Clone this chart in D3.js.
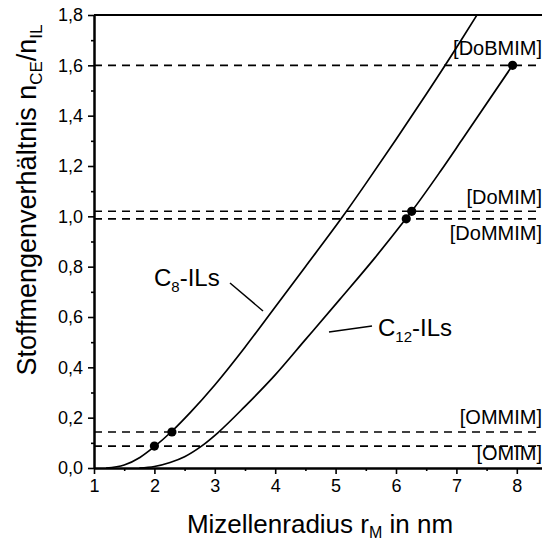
<!DOCTYPE html>
<html>
<head>
<meta charset="utf-8">
<script src="https://cdn.jsdelivr.net/npm/d3@7"></script>
<style>
  html, body { margin: 0; padding: 0; background: #fff; }
  svg { display: block; }
  text { font-family: "Liberation Sans", Arial, sans-serif; fill: #000; }
</style>
</head>
<body>
<script>
// ---- data ----
const c8R  = [1.20, 1.50, 1.76, 2.00, 2.29, 2.60, 3.00, 3.50, 4.00, 4.50, 5.12, 5.50, 6.00, 6.50, 7.00, 7.34];
const c8N  = [0.000, 0.012, 0.042, 0.085, 0.146, 0.222, 0.330, 0.480, 0.640, 0.800, 1.000, 1.130, 1.305, 1.485, 1.670, 1.800];
const c12R = [1.75, 2.00, 2.26, 2.50, 2.78, 3.05, 3.50, 4.00, 4.50, 5.07, 5.65, 6.17, 6.26, 6.73, 7.09, 7.93];
const c12N = [0.000, 0.006, 0.022, 0.045, 0.087, 0.140, 0.245, 0.370, 0.510, 0.670, 0.835, 0.992, 1.020, 1.177, 1.303, 1.600];
const pointR = [2.00, 2.29, 6.17, 6.26, 7.93];
const pointN = [0.087, 0.143, 0.990, 1.020, 1.600];
const levelN = [1.600, 1.020, 0.990, 0.143, 0.087];
const levelLabel = ["[DoBMIM]", "[DoMIM]", "[DoMMIM]", "[OMMIM]", "[OMIM]"];
const xTicks = [1, 2, 3, 4, 5, 6, 7, 8];
const xMinorTicks = [1.5, 2.5, 3.5, 4.5, 5.5, 6.5, 7.5, 8.5];
const yTicks = [0, 0.2, 0.4, 0.6, 0.8, 1.0, 1.2, 1.4, 1.6, 1.8];
const yMinorTicks = [0.1, 0.3, 0.5, 0.7, 0.9, 1.1, 1.3, 1.5, 1.7];

const W = 542, H = 544;
const svg = d3.select("body").append("svg").attr("width", W).attr("height", H);

const x = d3.scaleLinear().domain([1, 8.5]).range([94, 547]);
const y = d3.scaleLinear().domain([0, 1.8]).range([468, 15]);

const fmtY = d => d.toFixed(1).replace(".", ",");
// vertical offset of each level label relative to its dashed line (layout, not data)
const labelDy = [-10, -7, 21, -8, 14];

// dashed reference lines
svg.append("g").selectAll("line").data(levelN).join("line")
  .attr("x1", x(1)).attr("x2", x(8.5))
  .attr("y1", d => y(d)).attr("y2", d => y(d))
  .attr("stroke", "#000").attr("stroke-width", 1.6)
  .attr("stroke-dasharray", "8,6");

// level labels
svg.append("g").selectAll("text").data(levelN).join("text")
  .attr("x", 542)
  .attr("y", (d, i) => y(d) + labelDy[i])
  .attr("text-anchor", "end")
  .attr("font-size", 20)
  .text((d, i) => levelLabel[i]);

// curves
const line = d3.line().x(d => x(d[0])).y(d => y(d[1])).curve(d3.curveMonotoneX);
svg.append("path").datum(c8R.map((r, i) => [r, c8N[i]]))
  .attr("d", line).attr("fill", "none").attr("stroke", "#000").attr("stroke-width", 1.7);
svg.append("path").datum(c12R.map((r, i) => [r, c12N[i]]))
  .attr("d", line).attr("fill", "none").attr("stroke", "#000").attr("stroke-width", 1.7);

// points
svg.append("g").selectAll("circle").data(pointR).join("circle")
  .attr("cx", d => x(d)).attr("cy", (d, i) => y(pointN[i])).attr("r", 4.6)
  .attr("fill", "#000");

// axes
const gx = svg.append("g").attr("transform", `translate(0,${y(0)})`)
  .call(d3.axisBottom(x).tickValues(xTicks).tickSize(6).tickSizeOuter(0).tickPadding(5).tickFormat(d3.format("d")));
const gxm = svg.append("g").attr("transform", `translate(0,${y(0)})`)
  .call(d3.axisBottom(x).tickValues(xMinorTicks).tickSize(3).tickSizeOuter(0).tickFormat(""));
const gy = svg.append("g").attr("transform", `translate(${x(1)},0)`)
  .call(d3.axisLeft(y).tickValues(yTicks).tickSize(6).tickSizeOuter(0).tickPadding(5).tickFormat(fmtY));
const gym = svg.append("g").attr("transform", `translate(${x(1)},0)`)
  .call(d3.axisLeft(y).tickValues(yMinorTicks).tickSize(3).tickSizeOuter(0).tickFormat(""));
[gx, gxm, gy, gym].forEach(g => {
  g.selectAll(".domain").attr("stroke", "#000").attr("stroke-width", 2);
  g.selectAll(".tick line").attr("stroke", "#000").attr("stroke-width", 1.6);
  g.selectAll(".tick text").attr("font-size", 18).attr("font-family", "Liberation Sans, Arial, sans-serif").attr("fill", "#000");
});
// top frame line
svg.append("line").attr("x1", x(1)).attr("x2", x(8.5)).attr("y1", y(1.8)).attr("y2", y(1.8))
  .attr("stroke", "#000").attr("stroke-width", 2);

// axis titles
const xt = svg.append("text").attr("x", 320).attr("y", 533).attr("text-anchor", "middle").attr("font-size", 26);
xt.append("tspan").text("Mizellenradius r");
xt.append("tspan").attr("font-size", 16).attr("dy", 5).text("M");
xt.append("tspan").attr("dy", -5).text(" in nm");

const yt = svg.append("text").attr("transform", "translate(36,200) rotate(-90)").attr("text-anchor", "middle").attr("font-size", 27);
yt.append("tspan").text("Stoffmengenverhältnis n");
yt.append("tspan").attr("font-size", 17).attr("dy", 6).text("CE");
yt.append("tspan").attr("dy", -6).text("/n");
yt.append("tspan").attr("font-size", 17).attr("dy", 6).text("IL");

// curve labels
const l8 = svg.append("text").attr("x", 154).attr("y", 286).attr("font-size", 24);
l8.append("tspan").text("C");
l8.append("tspan").attr("font-size", 15).attr("dy", 6).text("8");
l8.append("tspan").attr("dy", -6).text("-ILs");
svg.append("line").attr("x1", 230).attr("y1", 283).attr("x2", 263).attr("y2", 311)
  .attr("stroke", "#000").attr("stroke-width", 1.5);

const l12 = svg.append("text").attr("x", 378).attr("y", 336).attr("font-size", 24);
l12.append("tspan").text("C");
l12.append("tspan").attr("font-size", 15).attr("dy", 6).text("12");
l12.append("tspan").attr("dy", -6).text("-ILs");
svg.append("line").attr("x1", 329).attr("y1", 332).attr("x2", 372).attr("y2", 326)
  .attr("stroke", "#000").attr("stroke-width", 1.5);
</script>
</body>
</html>
